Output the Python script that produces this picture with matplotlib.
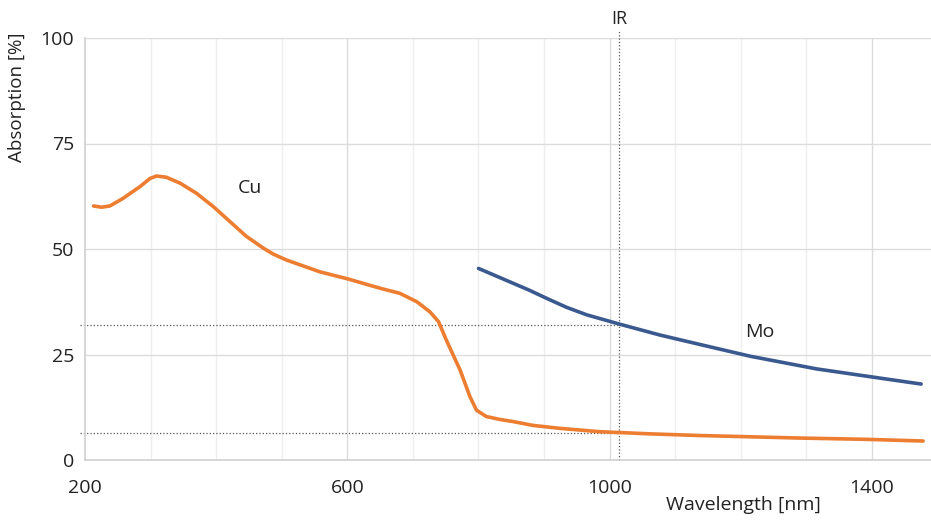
import matplotlib.pyplot as plt

# Cu absorption curve
cu_wl = [213, 225, 238, 258, 284, 299, 309, 324, 345, 370, 396, 421, 446, 472,
         487, 507, 558, 601, 650, 680, 706, 726, 739, 751, 772, 787, 797, 812,
         833, 853, 883, 924, 985, 1061, 1137, 1214, 1290, 1390, 1478]
cu_abs = [60.2, 59.9, 60.2, 62.0, 64.8, 66.7, 67.3, 67.0, 65.6, 63.2, 60.0, 56.5,
          53.0, 50.2, 48.8, 47.4, 44.6, 42.9, 40.7, 39.5, 37.5, 35.1, 32.8, 28.4,
          21.3, 15.0, 11.8, 10.3, 9.6, 9.1, 8.2, 7.5, 6.7, 6.2, 5.8, 5.5, 5.2,
          4.9, 4.5]

# Mo absorption curve
mo_wl = [800, 848, 878, 904, 934, 965, 1015, 1077, 1137, 1214, 1315, 1399, 1475]
mo_abs = [45.4, 42.2, 40.2, 38.3, 36.2, 34.4, 32.2, 29.6, 27.4, 24.6, 21.6, 19.7, 18.0]

ir_wl = 1015
ref_levels = [32.0, 6.3]

x_ticks = [200, 600, 1000, 1400]
y_ticks = [0, 25, 50, 75, 100]

plt.rcParams['font.family'] = ['Open Sans', 'DejaVu Sans']

fig = plt.figure(figsize=(9.31, 5.22), dpi=100)
ax = fig.add_axes([85/931, 62/522, 846/931, 422/522])
ax.set_xlim(200, 1490)
ax.set_ylim(0, 100)

# grid
for x in range(300, 1500, 100):
    c = '#dcdcdc' if x in x_ticks else '#efefef'
    ax.axvline(x, color=c, lw=1, zorder=0)
for y in y_ticks[1:]:
    ax.axhline(y, color='#dcdcdc', lw=1, zorder=0)

for s in ['top', 'right']:
    ax.spines[s].set_visible(False)
for s in ['left', 'bottom']:
    ax.spines[s].set_color('#d0d0d0')
    ax.spines[s].set_linewidth(1.2)

ax.set_xticks(x_ticks)
ax.set_yticks(y_ticks)
ax.tick_params(length=0, labelsize=14, colors='#222222')
ax.tick_params(axis='x', pad=14)
ax.tick_params(axis='y', pad=8)

# reference dotted lines
for lvl in ref_levels:
    ax.plot([192, ir_wl], [lvl, lvl], color='#555555', lw=0.9, ls=':', clip_on=False, zorder=1)
ax.plot([ir_wl, ir_wl], [0, 102], color='#555555', lw=0.9, ls=':', clip_on=False, zorder=1)

ax.plot(cu_wl, cu_abs, color='#ED7D31', lw=2.6, zorder=3,
        solid_capstyle='round', solid_joinstyle='round')
ax.plot(mo_wl, mo_abs, color='#3A5A8F', lw=2.6, zorder=3,
        solid_capstyle='round', solid_joinstyle='round')

ax.text(451, 64.5, 'Cu', fontsize=14, ha='center', va='center', color='#222222')
ax.text(1229, 30.3, 'Mo', fontsize=14, ha='center', va='center', color='#222222')
ax.text(ir_wl, 104.5, 'IR', fontsize=13, ha='center', va='center', color='#222222')

fig.text(17/931, 1 - 97/522, 'Absorption [%]', rotation=90, fontsize=13.5,
         ha='center', va='center', color='#222222')
fig.text(743/931, 1 - 505/522, 'Wavelength [nm]', fontsize=14,
         ha='center', va='center', color='#222222')

fig.savefig('out.png', dpi=100)
